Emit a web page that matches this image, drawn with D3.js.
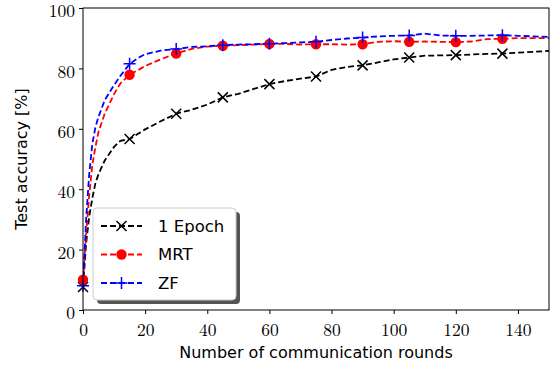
<!DOCTYPE html>
<html><head><meta charset="utf-8">
<script src="https://cdn.jsdelivr.net/npm/d3@7"></script>
<style>body{margin:0;background:#fff}svg{display:block}</style>
</head><body>
<svg id="c" width="560" height="365"></svg>
<script>
const rounds = [0,1,2,3,4,5,7,10,12,15,18,20,25,30,35,40,45,50,55,60,65,70,75,80,85,90,95,100,105,110,115,120,125,130,135,140,145,150];
const epoch1 = [7.6,22,31,37,42,45,49.5,54,56,56.6,58.5,59.8,62.5,65,66.3,68,70.4,71.6,73.2,74.8,75.8,76.6,77.3,79.5,80.5,81,82,83,83.6,84.2,84.3,84.4,84.6,84.8,84.9,85.2,85.5,85.8];
const mrt = [10,25,38,48,54,59,65,71.5,75,77.9,79.6,80.8,83,84.9,86.5,87.2,87.5,87.7,87.9,88.1,88.1,87.9,88,88,87.9,88,88.8,89,88.8,88.9,88.8,88.7,88.9,89.7,89.8,90,90,90];
const zf = [8,30,45,55,60.5,64,69.5,74.5,77.5,81.5,83.6,84.7,85.9,86.4,87.1,87.3,87.7,87.9,88,88.2,88.4,88.6,88.8,89.4,89.9,90.2,90.6,90.8,90.9,91.5,90.9,90.8,90.8,90.9,91,90.8,90.6,90.4];
const seriesNames = ["1 Epoch","MRT","ZF"];
const xTicks = [0,20,40,60,80,100,120,140];
const yTicks = [0,20,40,60,80,100];
const xLabel = "Number of communication rounds";
const yLabel = "Test accuracy [%]";

const L=83, R=549, T=8, B=310;
const svg = d3.select("#c");
const x = d3.scaleLinear().domain([0,150]).range([L,R]);
const y = d3.scaleLinear().domain([0,100]).range([B,T]);

const serif = "'Latin Modern Roman','CMU Serif','Liberation Serif','DejaVu Serif',serif";
const sans = "'CMU Sans Serif','DejaVu Sans',sans-serif";

const xa = svg.append("g").attr("transform",`translate(0,${B})`)
  .call(d3.axisBottom(x).tickValues(xTicks).tickSize(4).tickPadding(5).tickFormat(d3.format("d")));
const ya = svg.append("g").attr("transform",`translate(${L},0)`)
  .call(d3.axisLeft(y).tickValues(yTicks).tickSize(4).tickPadding(4).tickFormat(d3.format("d")));
[xa,ya].forEach(g=>{
  g.select(".domain").remove();
  g.selectAll("line").attr("stroke","#000").attr("stroke-width",1);
  g.selectAll("text").attr("font-family",serif).attr("font-size",17.5).attr("fill","#000");
});
xa.selectAll("text").attr("dy","0.95em");
ya.selectAll("text").attr("dy","0.5em");

const series = [
  {name:seriesNames[0], vals:epoch1, color:"#000000", marker:"x"},
  {name:seriesNames[1], vals:mrt, color:"#ff0000", marker:"o"},
  {name:seriesNames[2], vals:zf, color:"#0000ff", marker:"+"}
];
svg.append("clipPath").attr("id","cp").append("rect")
  .attr("x",L).attr("y",T).attr("width",R-L).attr("height",B-T);
const plot = svg.append("g").attr("clip-path","url(#cp)");
const line = d3.line().x((d,i)=>x(rounds[i])).y(d=>y(d));

function drawMarker(g, type, cx, cy, color){
  if(type==="o"){
    g.append("circle").attr("cx",cx).attr("cy",cy).attr("r",5.2).attr("fill",color);
  } else if(type==="x"){
    const s=5;
    g.append("path").attr("d",`M${cx-s},${cy-s}L${cx+s},${cy+s}M${cx-s},${cy+s}L${cx+s},${cy-s}`)
      .attr("stroke",color).attr("stroke-width",1.5).attr("fill","none");
  } else {
    const s=6;
    g.append("path").attr("d",`M${cx-s},${cy}L${cx+s},${cy}M${cx},${cy-s}L${cx},${cy+s}`)
      .attr("stroke",color).attr("stroke-width",1.5).attr("fill","none");
  }
}
const mg = svg.append("g");
series.forEach(s=>{
  plot.append("path").attr("d",line(s.vals)).attr("fill","none")
    .attr("stroke",s.color).attr("stroke-width",1.8).attr("stroke-dasharray","6,3");
});
series.forEach(s=>{
  rounds.forEach((r,i)=>{ if(r%15===0 && r<150) drawMarker(mg, s.marker, x(r), y(s.vals[i]), s.color); });
});

svg.append("rect").attr("x",L).attr("y",T).attr("width",R-L).attr("height",B-T)
  .attr("fill","none").attr("stroke","#000").attr("stroke-width",1);

svg.append("text").attr("x",(L+R)/2).attr("y",358).attr("text-anchor","middle")
  .attr("font-family",sans).attr("font-size",16).text(xLabel);
svg.append("text").attr("transform",`translate(27,${(T+B)/2}) rotate(-90)`).attr("text-anchor","middle")
  .attr("font-family",sans).attr("font-size",16).text(yLabel);

const lx=93, ly=208, lw=143, lh=92;
const lg = svg.append("g");
lg.append("rect").attr("x",lx+4).attr("y",ly+4).attr("width",lw).attr("height",lh).attr("rx",4)
  .attr("fill","#555");
lg.append("rect").attr("x",lx).attr("y",ly).attr("width",lw).attr("height",lh).attr("rx",4)
  .attr("fill","#fff").attr("stroke","#ccc").attr("stroke-width",1);
series.forEach((s,i)=>{
  const yy = ly+18+i*28.5;
  lg.append("line").attr("x1",lx+8).attr("x2",lx+49).attr("y1",yy).attr("y2",yy)
    .attr("stroke",s.color).attr("stroke-width",1.8).attr("stroke-dasharray","6,3");
  drawMarker(lg, s.marker, lx+28.5, yy, s.color);
  lg.append("text").attr("x",lx+65).attr("y",yy).attr("dy","0.35em")
    .attr("font-family",sans).attr("font-size",16.5).text(s.name);
});
</script>
</body></html>
